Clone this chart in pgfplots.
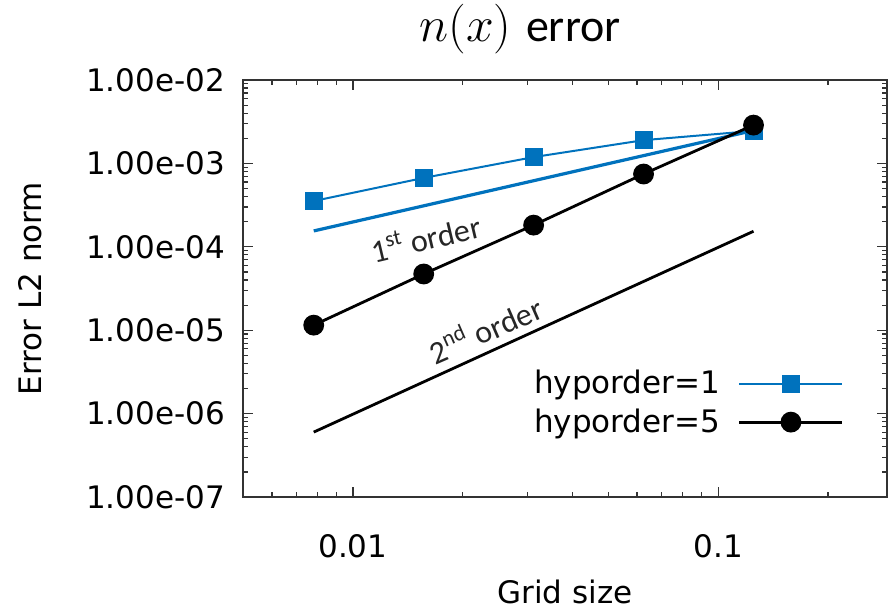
\documentclass[border=0pt]{standalone}
\usepackage{pgfplots}
\pgfplotsset{compat=1.18}
\usepackage{fontspec}
\setmainfont{DejaVu Sans}
\newfontfamily\carlito{Carlito}
\definecolor{myblue}{RGB}{0,114,189}
\newcommand{\tfont}{\fontsize{15.5}{18}\selectfont}
\begin{document}
\begin{tikzpicture}
\useasboundingbox (-121.5pt,-56.5pt) rectangle (323pt,248.5pt);
\begin{axis}[
  scale only axis,
  width=322pt, height=208.5pt,
  xmode=log, ymode=log,
  xmin=0.005, xmax=0.29,
  ymin=1e-7, ymax=1e-2,
  axis line style={line width=1pt, black!80},
  tick style={black!80, line width=0.6pt},
  tick align=inside,
  major tick length=5pt,
  minor tick length=2.5pt,
  xtick={0.01,0.1},
  xticklabels={0.01,0.1},
  minor xtick={0.005,0.006,0.007,0.008,0.009,0.02,0.03,0.04,0.05,0.06,0.07,0.08,0.09,0.2},
  ytick={1e-7,1e-6,1e-5,1e-4,1e-3,1e-2},
  yticklabels={1.00e-07,1.00e-06,1.00e-05,1.00e-04,1.00e-03,1.00e-02},
  minor ytick={2e-7,3e-7,4e-7,5e-7,6e-7,7e-7,8e-7,9e-7,
               2e-6,3e-6,4e-6,5e-6,6e-6,7e-6,8e-6,9e-6,
               2e-5,3e-5,4e-5,5e-5,6e-5,7e-5,8e-5,9e-5,
               2e-4,3e-4,4e-4,5e-4,6e-4,7e-4,8e-4,9e-4,
               2e-3,3e-3,4e-3,5e-3,6e-3,7e-3,8e-3,9e-3},
  xticklabel style={font=\tfont, anchor=base, yshift=-30pt},
  yticklabel style={font=\tfont, anchor=east, xshift=-5.5pt},
  xlabel={Grid size},
  ylabel={Error L2 norm},
  xlabel style={font=\tfont, at={(axis description cs:0.5,-0.228)}, anchor=center},
  ylabel style={font=\tfont, at={(axis description cs:-0.3307,0.5)}, anchor=center},
  legend plot pos=right,
  legend style={at={(0.943,0.324)}, anchor=north east, draw=none, fill=none,
                font=\tfont, cells={anchor=east}, row sep=2pt},
  legend image code/.code={\path (0pt,0pt); \draw[mark repeat=2,mark phase=2,#1]
     plot coordinates {(7pt,0pt) (32.75pt,0pt) (58.5pt,0pt)};},
]
% 1st order reference
\addplot[myblue, line width=1.6pt, forget plot] coordinates {(0.0078125,1.55e-4) (0.125,2.48e-3)};
% 2nd order reference
\addplot[black, line width=1.4pt, forget plot] coordinates {(0.0078125,6.0e-7) (0.125,1.536e-4)};
% hyporder=1
\addplot[myblue, line width=1pt, mark=square*, mark size=4pt, mark options={fill=myblue, draw=myblue}]
  coordinates {(0.0078125,3.54e-4) (0.015625,6.7e-4) (0.03125,1.19e-3) (0.0625,1.9e-3) (0.125,2.45e-3)};
\addlegendentry{hyporder=1}
% hyporder=5
\addplot[black, line width=1.4pt, mark=*, mark size=4.5pt, mark options={fill=black}]
  coordinates {(0.0078125,1.15e-5) (0.015625,4.72e-5) (0.03125,1.82e-4) (0.0625,7.46e-4) (0.125,2.88e-3)};
\addlegendentry{hyporder=5}
\node[font=\carlito\fontsize{16}{18}\selectfont, rotate=13.3, text=black!85] at (axis cs:0.0158,1.3e-4) {1\textsuperscript{st} order};
\node[font=\carlito\fontsize{16}{18}\selectfont, rotate=23.5, text=black!85] at (axis cs:0.023,1.05e-5) {2\textsuperscript{nd} order};
\end{axis}
\node[anchor=base, font=\fontsize{23}{26}\selectfont] at (138.5pt,227.5pt) {$n(x)$ {\carlito error}};
\end{tikzpicture}
\end{document}
